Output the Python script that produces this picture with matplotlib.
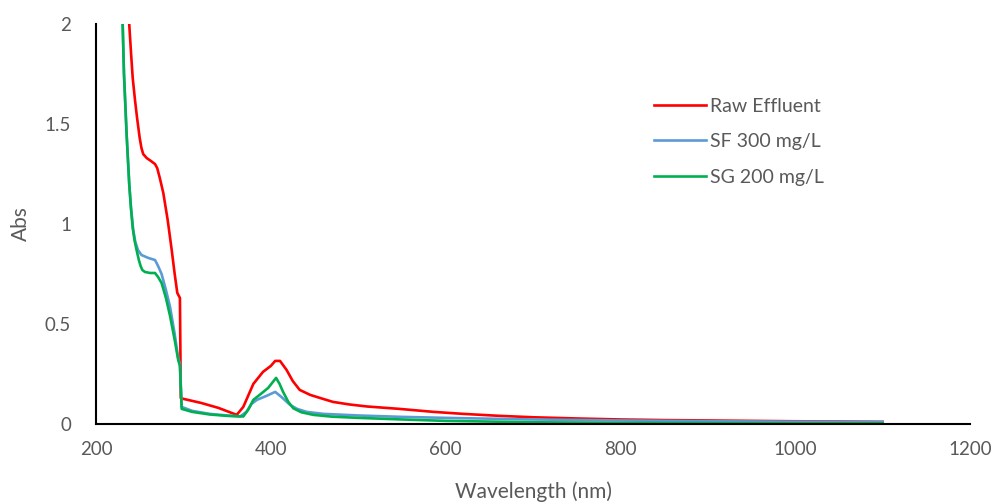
import matplotlib.pyplot as plt

# wavelength (nm) / absorbance
wl_raw = [225, 232, 236, 238, 240, 242, 244.6, 247, 250, 252, 254, 258, 263, 267.5, 270, 273, 277, 282, 286.6, 290,
          293, 296, 297, 300, 320, 340, 361, 368.5, 375, 380, 391, 400, 405, 410.5, 418, 425, 433, 445, 456, 471,
          490, 510, 547, 586, 620, 662, 700, 750, 800, 850, 900, 950, 1000, 1050, 1100]
abs_raw = [3.5, 2.6, 2.2, 2.0, 1.86, 1.73, 1.62, 1.53, 1.43, 1.38, 1.35, 1.33, 1.315, 1.3, 1.28, 1.23, 1.155, 1.02,
           0.87, 0.75, 0.655, 0.63, 0.13, 0.125, 0.105, 0.08, 0.045, 0.085, 0.15, 0.2, 0.26, 0.29, 0.315, 0.315,
           0.27, 0.215, 0.17, 0.145, 0.13, 0.11, 0.097, 0.087, 0.075, 0.06, 0.05, 0.04, 0.033, 0.027, 0.022, 0.019,
           0.017, 0.015, 0.013, 0.012, 0.01]

wl_sf = [222, 228, 230.5, 232, 235, 238, 240, 242.6, 245, 248, 252, 260, 267.5, 271, 275, 280, 284.7, 290, 294,
         296, 298, 310, 330, 350, 364.8, 372, 378, 384, 395, 405, 412, 422, 430, 441, 460, 500, 550, 600, 700, 800,
         900, 1000, 1100]
abs_sf = [3.5, 2.3, 2.0, 1.75, 1.45, 1.2, 1.08, 0.97, 0.91, 0.87, 0.845, 0.83, 0.82, 0.79, 0.75, 0.67, 0.585, 0.45,
          0.33, 0.3, 0.085, 0.065, 0.05, 0.042, 0.037, 0.06, 0.1, 0.12, 0.14, 0.16, 0.135, 0.095, 0.075, 0.06, 0.05,
          0.042, 0.035, 0.03, 0.022, 0.017, 0.013, 0.011, 0.01]

wl_sg = [222, 228, 230.5, 232, 235, 238, 240, 242, 244, 246.4, 249, 251, 253, 256, 262, 267.5, 271, 275, 280, 284.7,
         290, 294, 296, 298, 310, 330, 350, 368.5, 374, 380, 390, 397, 406, 410, 414, 420, 425.7, 435, 448.6, 470,
         500, 550, 600, 700, 800, 900, 1000, 1100]
abs_sg = [3.5, 2.3, 2.0, 1.75, 1.45, 1.2, 1.08, 0.98, 0.92, 0.87, 0.82, 0.79, 0.77, 0.76, 0.755, 0.755, 0.735, 0.705,
          0.63, 0.54, 0.42, 0.32, 0.29, 0.075, 0.06, 0.047, 0.04, 0.037, 0.07, 0.12, 0.155, 0.18, 0.23, 0.2, 0.16,
          0.11, 0.078, 0.058, 0.045, 0.036, 0.03, 0.022, 0.015, 0.008, 0.005, 0.004, 0.003, 0.003]

xticks = [200, 400, 600, 800, 1000, 1200]
yticks = [0, 0.5, 1, 1.5, 2]
ytick_labels = ['0', '0.5', '1', '1.5', '2']

plt.rcParams['font.family'] = ['Lato', 'DejaVu Sans']
grey = '#595959'

fig, ax = plt.subplots(figsize=(9.96, 5.04), dpi=100)
plt.subplots_adjust(left=0.0964, right=0.974, bottom=0.159, top=0.952)

ax.plot(wl_raw, abs_raw, color='#FF0000', lw=1.9, label='Raw Effluent')
ax.plot(wl_sf, abs_sf, color='#5B9BD5', lw=1.9, label='SF 300 mg/L')
ax.plot(wl_sg, abs_sg, color='#00B050', lw=1.9, label='SG 200 mg/L')

ax.set_xlim(200, 1200)
ax.set_ylim(0, 2)
ax.set_xticks(xticks)
ax.set_yticks(yticks)
ax.set_yticklabels(ytick_labels)
ax.tick_params(length=0, labelsize=13.5, colors=grey)
ax.tick_params(axis='y', pad=18)
ax.tick_params(axis='x', pad=12)

for s in ['top', 'right']:
    ax.spines[s].set_visible(False)
for s in ['left', 'bottom']:
    ax.spines[s].set_color('black')
    ax.spines[s].set_linewidth(1.5)

ax.set_xlabel('Wavelength (nm)', fontsize=15, color=grey, labelpad=17)
ax.set_ylabel('Abs', fontsize=15, color=grey, labelpad=10)

leg = ax.legend(loc='upper left', bbox_to_anchor=(0.618, 0.86), frameon=False, fontsize=14,
                handlelength=2.7, handletextpad=0.2, labelspacing=0.95)
for t in leg.get_texts():
    t.set_color(grey)

plt.savefig('out.png', dpi=100)
